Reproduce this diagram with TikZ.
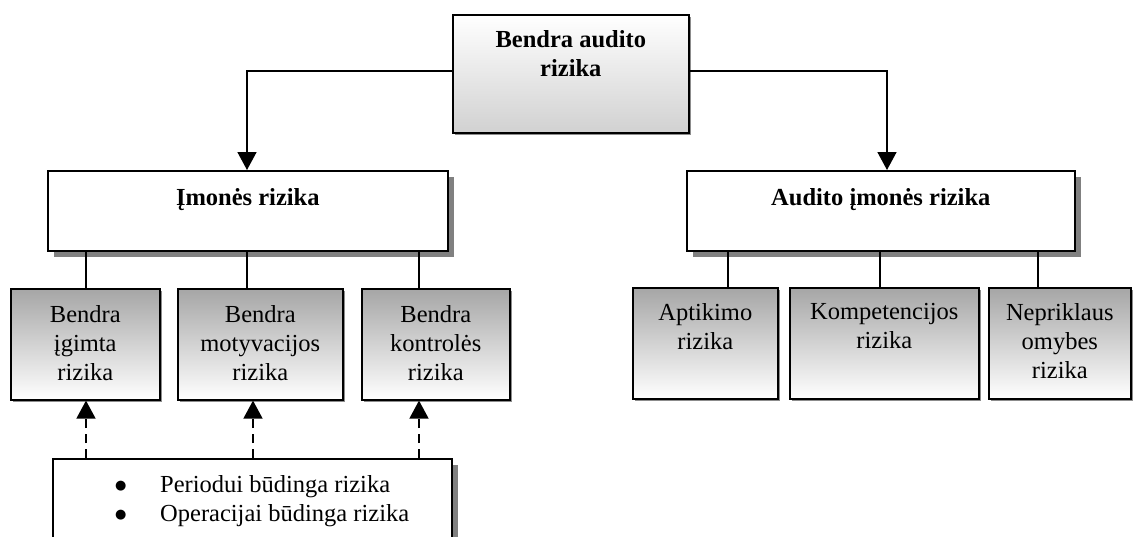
\documentclass[tikz,border=0pt]{standalone}
\usepackage{fontspec}
\setmainfont{Liberation Serif}
\newfontfamily\dotfont{DejaVu Sans}
\usetikzlibrary{arrows.meta,shadows}

\newcommand{\bigbullet}{\makebox[45pt][l]{\raisebox{3pt}{\dotfont\fontsize{13}{13}\selectfont ●}}}

\tikzset{
  box/.style={draw, line width=1.6pt, inner sep=0pt, anchor=north west},
  plainbox/.style={box, fill=white,
    drop shadow={shadow xshift=6pt, shadow yshift=-6pt, fill=black!50, opacity=1}},
  topbox/.style={box, top color=white, bottom color=black!18,
    drop shadow={shadow xshift=2pt, shadow yshift=-2pt, fill=black!45, opacity=1}},
  subbox/.style={box, top color=black!35, bottom color=white,
    drop shadow={shadow xshift=2pt, shadow yshift=-2pt, fill=black!45, opacity=1}},
  txt/.style={anchor=north, inner sep=0pt, align=center,
    font=\fontsize{24.5}{29}\selectfont},
  btxt/.style={txt, font=\fontsize{24.5}{29}\selectfont\bfseries},
  item/.style={anchor=base west, inner sep=0pt, font=\fontsize{24.5}{30}\selectfont},
  link/.style={line width=1.6pt},
  arr/.style={line width=1.6pt, -{Triangle[width=19pt,length=18pt]}},
  dasharr/.style={arr, dash pattern=on 9pt off 6pt},
}

\begin{document}
\begin{tikzpicture}[x=1pt, y=-1pt]
  \clip (0,0) rectangle (1136,536);
  \fill[white] (0,0) rectangle (1136,536);

  % top level
  \node[topbox, minimum width=236pt, minimum height=118pt] (top) at (452,14) {};
  \node[btxt] (top-t) at ([yshift=-16pt]top.north) {Bendra audito\\rizika};

  % second level
  \node[plainbox, minimum width=400pt, minimum height=80pt] (imo) at (47,170) {};
  \node[btxt] (imo-t) at ([yshift=-18pt]imo.north) {Įmonės rizika};
  \node[plainbox, minimum width=388pt, minimum height=80pt] (aud) at (686,170) {};
  \node[btxt] (aud-t) at ([yshift=-18pt]aud.north) {Audito įmonės rizika};

  % third level, left branch
  \node[subbox, minimum width=149pt, minimum height=111pt] (b1) at (10,288) {};
  \node[txt] (b1-t) at ([yshift=-17pt]b1.north) {Bendra\\įgimta\\rizika};
  \node[subbox, minimum width=165pt, minimum height=111pt] (b2) at (177,288) {};
  \node[txt] (b2-t) at ([yshift=-17pt]b2.north) {Bendra\\motyvacijos\\rizika};
  \node[subbox, minimum width=148pt, minimum height=111pt] (b3) at (361,288) {};
  \node[txt] (b3-t) at ([yshift=-17pt]b3.north) {Bendra\\kontrolės\\rizika};

  % third level, right branch
  \node[subbox, minimum width=145pt, minimum height=111pt] (r1) at (632,287) {};
  \node[txt] (r1-t) at ([yshift=-16pt]r1.north) {Aptikimo\\rizika};
  \node[subbox, minimum width=189pt, minimum height=111pt] (r2) at (789,287) {};
  \node[txt] (r2-t) at ([yshift=-16pt]r2.north) {Kompetencijos\\rizika};
  \node[subbox, minimum width=142pt, minimum height=111pt] (r3) at (988,287) {};
  \node[txt] (r3-t) at ([yshift=-16pt]r3.north) {Nepriklaus\\omybes\\rizika};

  % period / operation box
  \node[plainbox, minimum width=399pt, minimum height=140pt] (bot) at (52,458) {};
  \node[item] (p1) at (115,492) {\bigbullet Periodui būdinga rizika};
  \node[item] (p2) at (115,521) {\bigbullet Operacijai būdinga rizika};

  % connector columns
  \coordinate (a1) at (247,170);
  \coordinate (a2) at (887,170);
  \coordinate (v1) at (86,0);
  \coordinate (v2) at (247,0);
  \coordinate (v3) at (419,0);
  \coordinate (w1) at (728,0);
  \coordinate (w2) at (880,0);
  \coordinate (w3) at (1038,0);

  % top to second level
  \draw[arr] (top.west |- 0,71) -| (a1);
  \draw[arr] (top.east |- 0,71) -| (a2);

  % second to third level
  \draw[link] (v1 |- imo.south) -- (v1 |- b1.north);
  \draw[link] (v2 |- imo.south) -- (v2 |- b2.north);
  \draw[link] (v3 |- imo.south) -- (v3 |- b3.north);
  \draw[link] (w1 |- aud.south) -- (w1 |- r1.north);
  \draw[link] (w2 |- aud.south) -- (w2 |- r2.north);
  \draw[link] (w3 |- aud.south) -- (w3 |- r3.north);

  % dashed influences
  \draw[dasharr] (v1 |- bot.north) -- (v1 |- b1.south);
  \draw[dasharr] ([xshift=6pt]v2 |- bot.north) -- ([xshift=6pt]v2 |- b2.south);
  \draw[dasharr] (v3 |- bot.north) -- (v3 |- b3.south);
\end{tikzpicture}
\end{document}
